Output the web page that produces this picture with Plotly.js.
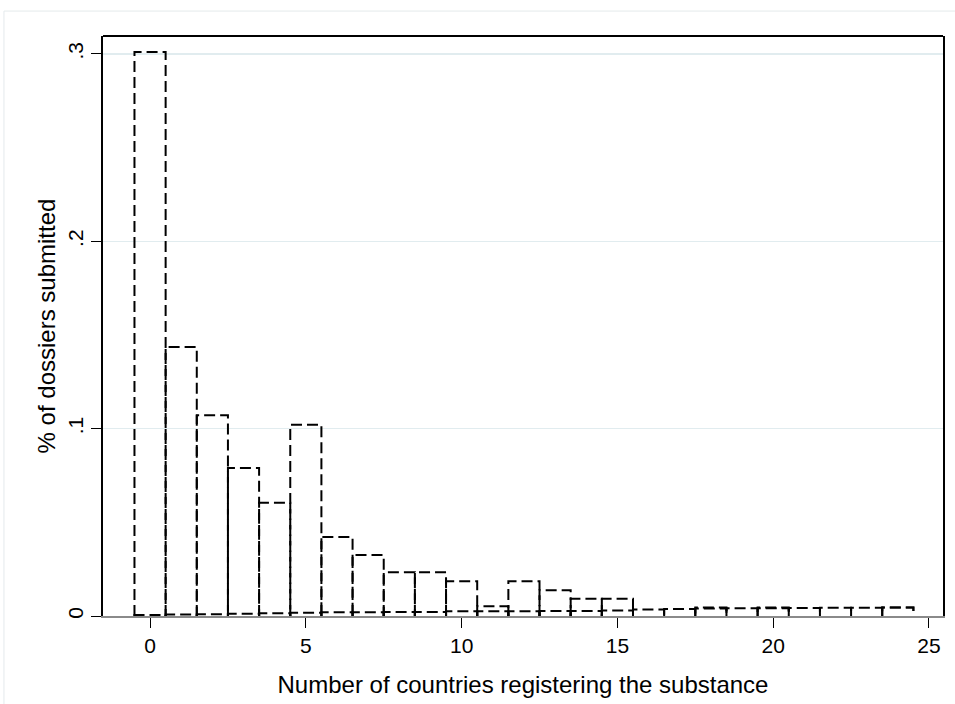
<!DOCTYPE html>
<html>
<head>
<meta charset="utf-8">
<script src="https://cdn.plot.ly/plotly-3.0.1.min.js"></script>
<style>html,body{margin:0;padding:0;background:#fff;}#chart{width:955px;height:704px;}</style>
</head>
<body>
<div id="chart"></div>
<script>
// Number of countries registering the substance (bin centres)
var countries = [0,1,2,3,4,5,6,7,8,9,10,11,12,13,14,15,16,17,18,19,20,21,22,23,24];
// main histogram (share of dossiers)
var shareMain = [0.301,0.1436,0.1071,0.079,0.0604,0.1021,0.0422,0.0326,0.0234,0.0234,0.0186,0.0052,0.0186,0.0138,0.0092,0.0092,0,0,0.0045,0,0.0045,0,0,0,0.0045];
// second (overlaid) histogram with very small shares
var shareSecond = [0.0005,0.0008,0.001,0.0012,0.0015,0.0017,0.002,0.002,0.0022,0.0022,0.0025,0.0026,0.0026,0.0027,0.0027,0.003,0.0035,0.0038,0.004,0.0042,0.0042,0.0043,0.0044,0.0044,0.0045];
var yTickVals = [0,0.1,0.2,0.3];
var yTickText = ['0','.1','.2','.3'];
var xTickVals = [0,5,10,15,20,25];

function outline(xs, vs){
  var px=[], py=[];
  for (var i=0;i<xs.length;i++){
    var v=vs[i]; if(!v) continue;
    px.push(xs[i]-0.5, xs[i]-0.5, xs[i]+0.5, xs[i]+0.5, null);
    py.push(0, v, v, 0, null);
  }
  return {x:px, y:py};
}
var a = outline(countries, shareMain);
var b = outline(countries, shareSecond);
var lineStyle = {color:'#000', width:2, dash:'11px,5px'};
var traces = [
  {type:'scatter', mode:'lines', x:b.x, y:b.y, line:lineStyle, hoverinfo:'skip', showlegend:false, connectgaps:false},
  {type:'scatter', mode:'lines', x:a.x, y:a.y, line:lineStyle, hoverinfo:'skip', showlegend:false, connectgaps:false}
];
var font = {family:'"Liberation Sans", Arial, sans-serif', color:'#000'};
var layout = {
  width:955, height:704,
  margin:{l:103, r:12, t:36, b:88, pad:0},
  paper_bgcolor:'#fff', plot_bgcolor:'#fff',
  showlegend:false,
  font: font,
  xaxis:{
    range:[-1.51,25.45], tickvals:xTickVals, ticks:'outside', ticklen:10, tickwidth:1, tickcolor:'#000',
    tickfont:{family:font.family, size:21, color:'#000'},
    showgrid:false, zeroline:false, showline:true, linecolor:'#8a8a8a', linewidth:2,
    title:{text:'Number of countries registering the substance', font:{family:font.family, size:24, color:'#000'}, standoff:20}
  },
  yaxis:{
    range:[0,0.3096], tickvals:yTickVals, ticktext:yTickText, ticks:'outside', ticklen:10, tickwidth:1, tickcolor:'#000',
    tickangle:-90, tickfont:{family:font.family, size:21, color:'#000'}, ticklabelstandoff:0,
    showgrid:true, gridcolor:'#e1ecef', gridwidth:1.5, zeroline:false,
    showline:true, mirror:true, linecolor:'#000', linewidth:2,
    title:{text:'% of dossiers submitted', font:{family:font.family, size:24, color:'#000'}, standoff:1}
  },
  shapes:[
    {type:'line', xref:'paper', yref:'paper', x0:0, x1:1, y0:1, y1:1, line:{color:'#000', width:2}},
    {type:'rect', xref:'paper', yref:'paper', x0:-0.1179, x1:1.03, y0:-0.17, y1:1.043, line:{color:'#e4eaec', width:1}, layer:'below'}
  ]
};
Plotly.newPlot('chart', traces, layout, {displayModeBar:false, staticPlot:true});
</script>
</body>
</html>
